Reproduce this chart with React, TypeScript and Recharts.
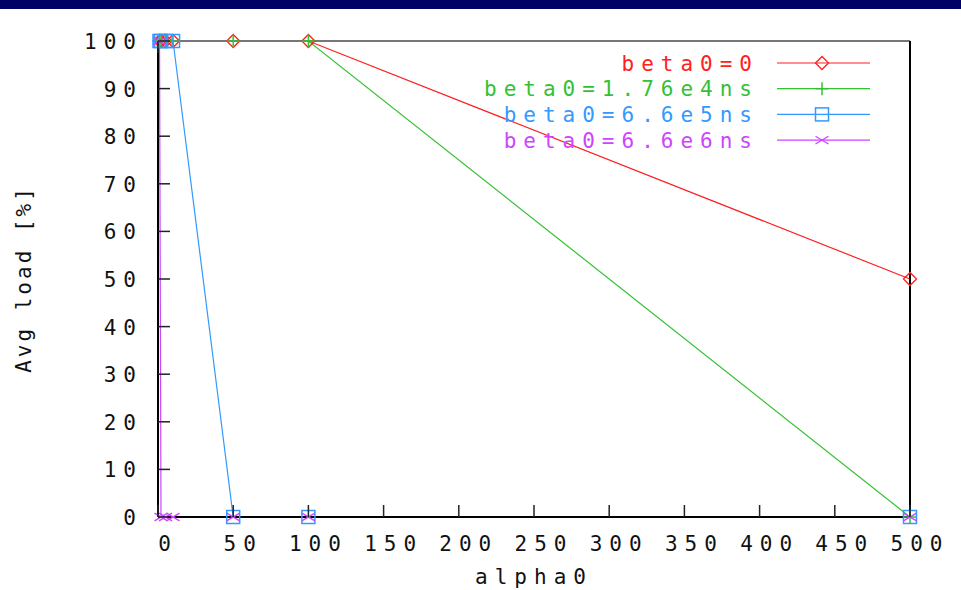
import React from "react";
import {
  LineChart,
  Line,
  XAxis,
  YAxis,
  Legend,
} from "recharts";

// alpha0 values on the x axis
const ALPHA = [1, 2, 5, 10, 50, 100, 500];
// Avg load [%] per beta0 setting
const BETA_0 = [100, 100, 100, 100, 100, 100, 50];
const BETA_176E4 = [100, 100, 100, 100, 100, 100, 0];
const BETA_66E5 = [100, 100, 100, 100, 0, 0, 0];
const BETA_66E6 = [100, 0, 0, 0, 0, 0, 0];

const X_TICKS = [0, 50, 100, 150, 200, 250, 300, 350, 400, 450, 500];
const Y_TICKS = [0, 10, 20, 30, 40, 50, 60, 70, 80, 90, 100];

const SERIES = [
  { key: "b0", name: "beta0=0", color: "#ff2020", marker: "diamond" },
  { key: "b1", name: "beta0=1.76e4ns", color: "#33c133", marker: "plus" },
  { key: "b2", name: "beta0=6.6e5ns", color: "#3399ff", marker: "square" },
  { key: "b3", name: "beta0=6.6e6ns", color: "#cc44ff", marker: "cross" },
];

const data = ALPHA.map((a, i) => ({
  alpha: a,
  b0: BETA_0[i],
  b1: BETA_176E4[i],
  b2: BETA_66E5[i],
  b3: BETA_66E6[i],
}));

const FONT = '"DejaVu Sans Mono", monospace';
const FS = 21;
const LS = 7;
const TICK_LEN = 12;

function Marker({ type, x, y, color }: { type: string; x: number; y: number; color: string }) {
  const r = 6.5;
  if (type === "diamond")
    return (
      <polygon
        points={`${x - r},${y} ${x},${y - r} ${x + r},${y} ${x},${y + r}`}
        fill="none"
        stroke={color}
        strokeWidth={1.3}
      />
    );
  if (type === "plus")
    return (
      <g stroke={color} strokeWidth={1.5}>
        <line x1={x - r} y1={y} x2={x + r} y2={y} />
        <line x1={x} y1={y - r} x2={x} y2={y + r} />
      </g>
    );
  if (type === "square")
    return (
      <rect x={x - r} y={y - r} width={2 * r} height={2 * r} fill="none" stroke={color} strokeWidth={1.5} />
    );
  return (
    <g stroke={color} strokeWidth={1.3}>
      <line x1={x - r} y1={y - r * 0.6} x2={x + r} y2={y + r * 0.6} />
      <line x1={x - r} y1={y + r * 0.6} x2={x + r} y2={y - r * 0.6} />
    </g>
  );
}

function makeDot(type: string, color: string) {
  return (props: any) => {
    const { cx, cy, index } = props;
    if (cx == null || cy == null) return <g key={index} />;
    return <Marker key={index} type={type} x={cx} y={cy} color={color} />;
  };
}

function BottomTick(props: any) {
  const { x, y, payload } = props;
  return (
    <g>
      <line x1={x} y1={y} x2={x} y2={y - TICK_LEN} stroke="#222" strokeWidth={1.5} />
      <text
        x={x + 10}
        y={y + 34}
        textAnchor="middle"
        fontFamily={FONT}
        fontSize={FS}
        letterSpacing={LS}
        fill="#111"
      >
        {payload.value}
      </text>
    </g>
  );
}

function TopTick(props: any) {
  const { x, y } = props;
  return <line x1={x} y1={y} x2={x} y2={y + TICK_LEN} stroke="#222" strokeWidth={1.5} />;
}

function LeftTick(props: any) {
  const { x, y, payload } = props;
  return (
    <g>
      <line x1={x} y1={y} x2={x + TICK_LEN} y2={y} stroke="#222" strokeWidth={1.5} />
      <text
        x={x - 15}
        y={y + 8}
        textAnchor="end"
        fontFamily={FONT}
        fontSize={FS}
        letterSpacing={LS}
        fill="#111"
      >
        {payload.value}
      </text>
    </g>
  );
}

function RightTick(props: any) {
  const { x, y } = props;
  return <line x1={x} y1={y} x2={x - TICK_LEN - 2} y2={y} stroke="#222" strokeWidth={1.5} />;
}

function LegendBox() {
  return (
    <svg width={961} height={160} style={{ display: "block" }}>
      {SERIES.map((s, i) => {
        const y = 63 + i * 25.7;
        return (
          <g key={s.key}>
            <text
              x={759}
              y={y + 7.5}
              textAnchor="end"
              fontFamily={FONT}
              fontSize={FS}
              letterSpacing={LS}
              fill={s.color}
            >
              {s.name}
            </text>
            <line x1={777} y1={y} x2={870} y2={y} stroke={s.color} strokeWidth={1.2} />
            <Marker type={s.marker} x={822} y={y} color={s.color} />
          </g>
        );
      })}
    </svg>
  );
}

export default function App() {
  return (
    <div style={{ position: "absolute", left: 0, top: 0, width: 961, height: 590, background: "#fff" }}>
      <LineChart
        width={961}
        height={590}
        data={data}
        margin={{ top: 40, right: 50, bottom: 72, left: 157 }}
      >
        <XAxis
          dataKey="alpha"
          type="number"
          domain={[0, 500]}
          ticks={X_TICKS}
          interval={0}
          height={1}
          tickSize={0}
          tickMargin={0}
          tickLine={false}
          axisLine={{ stroke: "#000", strokeWidth: 2 }}
          tick={<BottomTick />}
          label={{
            value: "alpha0",
            position: "bottom",
            offset: 51,
            style: { fontFamily: FONT, fontSize: FS, letterSpacing: LS, fill: "#111" },
          }}
        />
        <XAxis
          xAxisId="top"
          orientation="top"
          type="number"
          domain={[0, 500]}
          ticks={X_TICKS}
          interval={0}
          height={1}
          tickSize={0}
          tickMargin={0}
          tickLine={false}
          axisLine={{ stroke: "#777", strokeWidth: 2 }}
          tick={<TopTick />}
        />
        <YAxis
          type="number"
          domain={[0, 100]}
          ticks={Y_TICKS}
          interval={0}
          width={1}
          tickSize={0}
          tickMargin={0}
          tickLine={false}
          axisLine={{ stroke: "#000", strokeWidth: 2 }}
          tick={<LeftTick />}
          label={{
            content: (p: any) => {
              const vb = p.viewBox;
              const cx = vb.x - 126;
              const cy = vb.y + vb.height / 2;
              return (
                <text
                  x={cx}
                  y={cy}
                  transform={`rotate(-90, ${cx}, ${cy})`}
                  textAnchor="middle"
                  fontFamily={FONT}
                  fontSize={FS}
                  letterSpacing={3}
                  fill="#111"
                >
                  Avg load [%]
                </text>
              );
            },
          }}
        />
        <YAxis
          yAxisId="right"
          orientation="right"
          type="number"
          domain={[0, 100]}
          ticks={Y_TICKS}
          interval={0}
          width={1}
          tickSize={0}
          tickMargin={0}
          tickLine={false}
          axisLine={{ stroke: "#000", strokeWidth: 2 }}
          tick={<RightTick />}
        />
        <Legend
          layout="vertical"
          align="center"
          verticalAlign="middle"
          wrapperStyle={{ position: "absolute", left: 0, top: 0, width: 961, height: 160 }}
          content={() => <LegendBox />}
        />
        {SERIES.map((s) => (
          <Line
            key={s.key}
            type="linear"
            dataKey={s.key}
            name={s.name}
            stroke={s.color}
            strokeWidth={1.2}
            dot={makeDot(s.marker, s.color)}
            activeDot={false}
            isAnimationActive={false}
          />
        ))}
      </LineChart>
      <div style={{ position: "absolute", left: 0, top: 0, width: 961, height: 9, background: "#000066" }} />
    </div>
  );
}
